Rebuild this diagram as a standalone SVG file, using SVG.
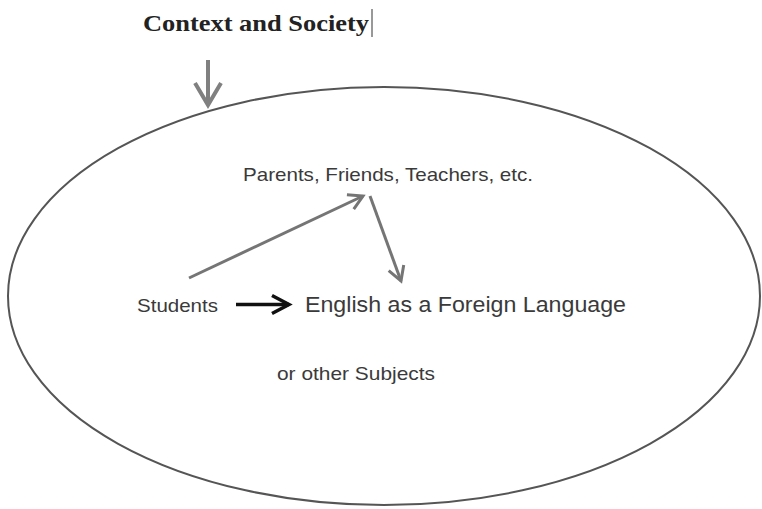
<svg xmlns="http://www.w3.org/2000/svg" width="762" height="509" viewBox="0 0 762 509">
<style>
.lbl{font-family:"Liberation Sans",Arial,sans-serif;fill:#3a3a3a}
.title{font-family:"Liberation Serif","Times New Roman",serif;font-weight:bold;fill:#222}
.gray{stroke:#757575;stroke-width:3;fill:none}
.blk{stroke:#111;stroke-width:3.5;fill:none}
</style>
<defs>
<marker id="gh" markerUnits="userSpaceOnUse" orient="auto" refX="0" refY="0" overflow="visible" markerWidth="30" markerHeight="30">
<path d="M-14,-8 L0,0 L-14,8" fill="none" stroke="#757575" stroke-width="3" stroke-linejoin="miter"/>
</marker>
<marker id="th" markerUnits="userSpaceOnUse" orient="auto" refX="0" refY="0" overflow="visible" markerWidth="40" markerHeight="40">
<path d="M-22,-13 L0,0 L-22,13" fill="none" stroke="#808080" stroke-width="4"/>
</marker>
<marker id="bh" markerUnits="userSpaceOnUse" orient="auto" refX="0" refY="0" overflow="visible" markerWidth="30" markerHeight="30">
<path d="M-17,-9 L0,0 L-17,9" fill="none" stroke="#111" stroke-width="3.5"/>
</marker>
</defs>
<g id="context">
<text class="title" x="143" y="31" font-size="24" textLength="226" lengthAdjust="spacingAndGlyphs">Context and Society</text>
<line x1="372" y1="9" x2="372" y2="37" stroke="#333" stroke-width="1"/>
</g>
<g id="society-ellipse">
<ellipse cx="384" cy="296" rx="376" ry="209" fill="none" stroke="#555" stroke-width="2"/>
</g>
<g id="parents">
<text class="lbl" x="243" y="181" font-size="19" textLength="290" lengthAdjust="spacingAndGlyphs">Parents, Friends, Teachers, etc.</text>
</g>
<g id="students">
<text class="lbl" x="137" y="312" font-size="19" textLength="81" lengthAdjust="spacingAndGlyphs">Students</text>
</g>
<g id="efl">
<text class="lbl" x="305" y="312" font-size="22" textLength="321" lengthAdjust="spacingAndGlyphs">English as a Foreign Language</text>
</g>
<g id="other">
<text class="lbl" x="277" y="380" font-size="19" textLength="158" lengthAdjust="spacingAndGlyphs">or other Subjects</text>
</g>
<g id="connectors">
<line x1="208" y1="60" x2="208" y2="105" stroke="#808080" stroke-width="4" marker-end="url(#th)"/>
<line class="gray" x1="189" y1="278" x2="363" y2="196" marker-end="url(#gh)"/>
<line class="gray" x1="370" y1="196" x2="401" y2="281" marker-end="url(#gh)"/>
<line class="blk" x1="236" y1="304.5" x2="289" y2="304.5" marker-end="url(#bh)"/>
</g>
</svg>
